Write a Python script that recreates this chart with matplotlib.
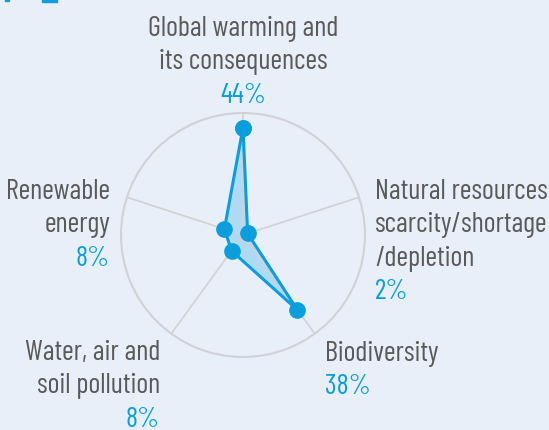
import matplotlib
matplotlib.use('Agg')
import matplotlib.pyplot as plt
from matplotlib import font_manager
import numpy as np

categories = ['Global warming and\nits consequences',
              'Natural resources\nscarcity/shortage\n/depletion',
              'Biodiversity',
              'Water, air and\nsoil pollution',
              'Renewable\nenergy']
values = [44, 2, 38, 8, 8]
r_max = 50

bg = '#e8eff9'
blue = '#0a9fdc'
grey_txt = '#5a5a5a'

names = {f.name for f in font_manager.fontManager.ttflist}
fam = 'DejaVu Sans'
for cand in ['Barlow Condensed', 'Barlow Semi Condensed', 'Roboto Condensed',
             'Archivo Narrow', 'PT Sans Narrow', 'Liberation Sans Narrow']:
    if cand in names:
        fam = cand
        break
plt.rcParams['font.family'] = [fam, 'DejaVu Sans']

W, H = 549, 431
fig = plt.figure(figsize=(W / 100, H / 100), dpi=100, facecolor=bg)

cx, cy, R = 243, 236, 122
ax = fig.add_axes([(cx - R) / W, (H - cy - R) / H, 2 * R / W, 2 * R / H], projection='polar')
ax.set_facecolor(bg)
ax.set_theta_offset(np.pi / 2)
ax.set_theta_direction(-1)
ax.set_ylim(0, r_max)

angles = np.linspace(0, 2 * np.pi, len(values), endpoint=False)
ax.set_xticks(angles)
ax.set_xticklabels([])
ax.set_yticks([])
ax.grid(True, color='#d0d2d5', lw=1.2)
ax.spines['polar'].set_color('#d0d2d5')
ax.spines['polar'].set_linewidth(1.5)

a = np.append(angles, angles[0])
v = np.append(values, values[0])
ax.fill(a, v, color=blue, alpha=0.25, lw=0)
ax.plot(a, v, color=blue, lw=2.2, marker='o', ms=11, clip_on=False)

# label anchor (x, first baseline y) in pixels, alignment
pos = [(243, 36, 'center'), (375, 199, 'left'), (325, 361, 'left'),
       (160, 360, 'right'), (110, 199, 'right')]
fs = 20.5
lh = 33.3
for (x, y, ha), cat, val in zip(pos, categories, values):
    lines = cat.split('\n')
    for i, ln in enumerate(lines):
        fig.text(x / W, 1 - (y + i * lh) / H, ln, ha=ha, va='baseline',
                 fontsize=fs, color=grey_txt)
    fig.text(x / W, 1 - (y + len(lines) * lh) / H, f'{val}%', ha=ha, va='baseline',
             fontsize=fs, color=blue)

# cut-off logo bits at top-left
fig.patches.append(plt.Rectangle((5 / W, 1 - 2 / H), 4 / W, 2 / H, transform=fig.transFigure,
                                 color=blue, figure=fig))
fig.patches.append(plt.Rectangle((42 / W, 1 - 3 / H), 15 / W, 3 / H, transform=fig.transFigure,
                                 color=blue, figure=fig))

fig.savefig('out.png', dpi=100, facecolor=bg)
